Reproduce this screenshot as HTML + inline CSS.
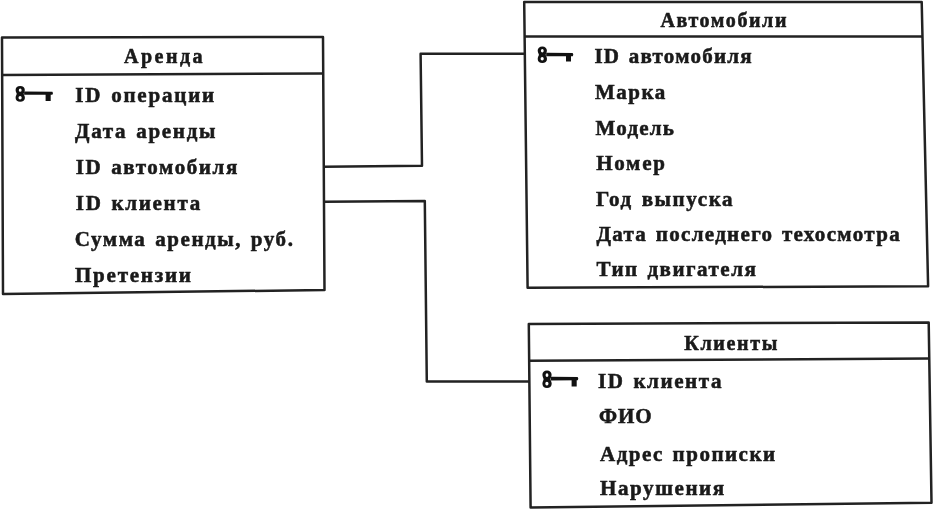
<!DOCTYPE html>
<html><head><meta charset="utf-8">
<style>
html,body{margin:0;padding:0;background:#fff;}
body{width:934px;height:510px;overflow:hidden;}
svg{display:block;will-change:transform;}
.wrap{width:934px;height:510px;}
text{font-family:"Liberation Serif",serif;font-weight:bold;font-size:21px;fill:#1a1a1a;stroke:#1a1a1a;stroke-width:0.55px;}
.s{font-family:"Liberation Sans",sans-serif;}
</style></head><body><div class="wrap">
<svg width="934" height="510" viewBox="0 0 934 510">
<g fill="none" stroke="#222" stroke-width="2.5" stroke-linejoin="round">
<path d="M2 37.5 L323 37 L324.5 290 L3 294 Z"/>
<path d="M2 75 L323.3 73.5"/>
<path d="M524.2 2 L921.7 2 L928.1 286.3 L527.6 287.7 Z"/>
<path d="M524.6 36.5 L922.5 36.5"/>
<path d="M528.8 324.1 L928.7 322.4 L931.5 502.8 L530.6 507.5 Z"/>
<path d="M529 360.8 L929.2 358.4"/>
<path d="M324 166.7 L422 165.8 L420.6 53.8 L524.6 53.8"/>
<path d="M324 201.7 L424.8 201.1 L426.8 381.5 L529.3 381.5"/>
</g>
<path fill="#111" fill-rule="evenodd" transform="translate(15.6 86) scale(1 0.903)" d="M4.6 0 C7.4 0 9.2 1.8 9.2 4.3 C9.2 6.3 8.2 7.5 8.0 8.7 C8.2 9.9 9.3 11.2 9.3 13.2 C9.3 15.8 7.3 17.5 4.6 17.5 C1.9 17.5 0 15.8 0 13.2 C0 11.2 1.0 9.9 1.2 8.7 C1.0 7.5 0 6.3 0 4.3 C0 1.8 1.8 0 4.6 0 Z M4.6 2.8 A1.4 1.8 0 1 0 4.6 6.4 A1.4 1.8 0 1 0 4.6 2.8 Z M4.5 11.1 A1.6 1.9 0 1 0 4.5 14.9 A1.6 1.9 0 1 0 4.5 11.1 Z"/><path fill="#111" d="M24.1 91.60 L52.4 91.70 Q53.6 93.20 52.4 94.70 L24.1 94.80 Z"/><path fill="#111" d="M45.6 93.1 L50.7 93.1 L50.7 101 L45.6 101 Z"/>
<path fill="#111" fill-rule="evenodd" transform="translate(537.7 46.4) scale(1 0.954)" d="M4.6 0 C7.4 0 9.2 1.8 9.2 4.3 C9.2 6.3 8.2 7.5 8.0 8.7 C8.2 9.9 9.3 11.2 9.3 13.2 C9.3 15.8 7.3 17.5 4.6 17.5 C1.9 17.5 0 15.8 0 13.2 C0 11.2 1.0 9.9 1.2 8.7 C1.0 7.5 0 6.3 0 4.3 C0 1.8 1.8 0 4.6 0 Z M4.6 2.8 A1.4 1.8 0 1 0 4.6 6.4 A1.4 1.8 0 1 0 4.6 2.8 Z M4.5 11.1 A1.6 1.9 0 1 0 4.5 14.9 A1.6 1.9 0 1 0 4.5 11.1 Z"/><path fill="#111" d="M546.2 52.85 L572.7 52.95 Q573.9000000000001 54.60 572.7 56.25 L546.2 56.35 Z"/><path fill="#111" d="M566 54.5 L571 54.5 L571 61.5 L566 61.5 Z"/>
<path fill="#111" fill-rule="evenodd" transform="translate(542.4 370.5) scale(1 1.006)" d="M4.6 0 C7.4 0 9.2 1.8 9.2 4.3 C9.2 6.3 8.2 7.5 8.0 8.7 C8.2 9.9 9.3 11.2 9.3 13.2 C9.3 15.8 7.3 17.5 4.6 17.5 C1.9 17.5 0 15.8 0 13.2 C0 11.2 1.0 9.9 1.2 8.7 C1.0 7.5 0 6.3 0 4.3 C0 1.8 1.8 0 4.6 0 Z M4.6 2.8 A1.4 1.8 0 1 0 4.6 6.4 A1.4 1.8 0 1 0 4.6 2.8 Z M4.5 11.1 A1.6 1.9 0 1 0 4.5 14.9 A1.6 1.9 0 1 0 4.5 11.1 Z"/><path fill="#111" d="M550.9 376.80 L577.7 376.90 Q578.9000000000001 378.60 577.7 380.30 L550.9 380.40 Z"/><path fill="#111" d="M571.6 378.5 L576.7 378.5 L576.7 386.5 L571.6 386.5 Z"/>
<text id="t0" class="h" x="124" y="63.1" style="letter-spacing:2.5px;word-spacing:0px;font-size:20px">Аренда</text>
<text id="t1" x="75.2" y="102.3" style="letter-spacing:1.8px;word-spacing:2px;font-size:21px">ID операции</text>
<text id="t2" x="75" y="137.8" style="letter-spacing:1.7px;word-spacing:2px;font-size:21px">Дата аренды</text>
<text id="t3" x="75.8" y="174.4" style="letter-spacing:1.6px;word-spacing:2px;font-size:21px">ID автомобиля</text>
<text id="t4" x="75.8" y="210.4" style="letter-spacing:1.7px;word-spacing:2px;font-size:21px">ID клиента</text>
<text id="t5" x="74.8" y="246.2" style="letter-spacing:1.56px;word-spacing:2px;font-size:21px">Сумма аренды, руб.</text>
<text id="t6" x="75" y="282.3" style="letter-spacing:1.78px;word-spacing:0px;font-size:21px">Претензии</text>
<text id="t7" class="h" x="660.5" y="27.3" style="letter-spacing:1.6px;word-spacing:0px;font-size:20px">Автомобили</text>
<text id="t8" x="594.4" y="63.2" style="letter-spacing:1.25px;word-spacing:2px;font-size:21px">ID автомобиля</text>
<text id="t9" x="594.9" y="98.7" style="letter-spacing:1.5px;word-spacing:0px;font-size:21px">Марка</text>
<text id="t10" x="595.6" y="134.8" style="letter-spacing:1.2px;word-spacing:0px;font-size:21px">Модель</text>
<text id="t11" x="596.2" y="169.5" style="letter-spacing:1.75px;word-spacing:0px;font-size:21px">Номер</text>
<text id="t12" x="596" y="206" style="letter-spacing:1.6px;word-spacing:2px;font-size:21px">Год выпуска</text>
<text id="t13" x="596.4" y="241.2" style="letter-spacing:1.33px;word-spacing:2px;font-size:21px">Дата последнего техосмотра</text>
<text id="t14" x="596.5" y="275.6" style="letter-spacing:1.5px;word-spacing:2px;font-size:21px">Тип двигателя</text>
<text id="t15" class="h" x="684.2" y="350.4" style="letter-spacing:1.7px;word-spacing:0px;font-size:20px">Клиенты</text>
<text id="t16" x="598" y="387.8" style="letter-spacing:1.6px;word-spacing:2px;font-size:21px">ID клиента</text>
<text id="t17" x="599" y="423.1" style="letter-spacing:1.0px;word-spacing:0px;font-size:21px">ФИО</text>
<text id="t18" x="600" y="460.9" style="letter-spacing:1.5px;word-spacing:2px;font-size:21px">Адрес прописки</text>
<text id="t19" x="600" y="495.1" style="letter-spacing:1.6px;word-spacing:0px;font-size:21px">Нарушения</text>
</svg></div>
</body></html>
